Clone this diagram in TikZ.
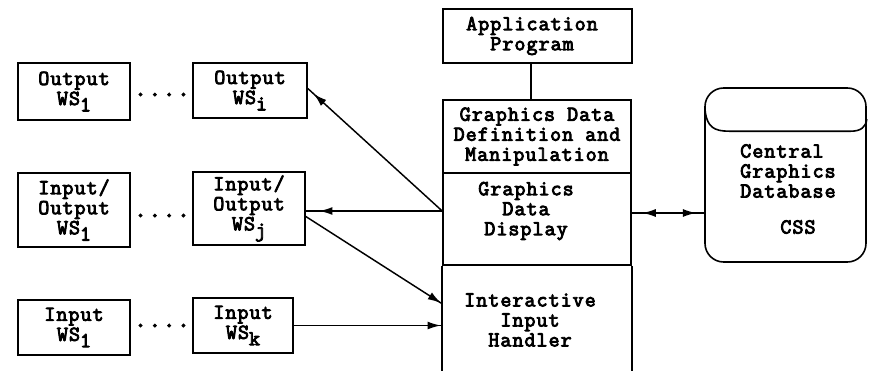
\documentclass[tikz,border=0pt]{standalone}
\usepackage{fontspec}
\newfontfamily\wsfont[FakeBold=4, LetterSpace=5]{Latin Modern Mono}
\usetikzlibrary{arrows.meta,decorations.markings,calc}

% lowered index after "WS"
\newcommand\wsidx[1]{\raisebox{-0.3em}{#1}}

\begin{document}
\begin{tikzpicture}[x=0.75pt,y=-0.75pt,
  every node/.style={font=\wsfont\fontsize{16}{15}\selectfont, inner sep=0pt},
  wsbox/.style={draw, line width=1.2pt, align=center},
  colbox/.style={draw, line width=1.2pt, align=center, minimum width=141pt},
  plain/.style={align=center},
  link/.style={line width=1.1pt},
  headat/.style={postaction={decorate},
    decoration={markings, mark=at position #1 with {\arrow{Latex[length=10pt,width=6pt]}}}},
  bothheads/.style 2 args={postaction={decorate},
    decoration={markings,
      mark=at position #1 with {\arrowreversed{Latex[length=10pt,width=6pt]}},
      mark=at position #2 with {\arrow{Latex[length=10pt,width=6pt]}}}},
  dots/.style={font=\wsfont\fontsize{19}{19}\selectfont}]

\useasboundingbox (0,0) rectangle (869,371);

% workstations
\node[wsbox, minimum width=84pt, minimum height=42.75pt] (outa) at (74,91.5) {Output\\WS\wsidx{1}};
\node[wsbox, minimum width=85.5pt, minimum height=41.25pt] (outb) at (250,90.5) {Output\\WS\wsidx{i}};
\node[wsbox, minimum width=84pt, minimum height=55.5pt] (ioa) at (74,210) {Input/\\Output\\WS\wsidx{1}};
\node[wsbox, minimum width=84pt, minimum height=54.75pt] (iob) at (249,208.5) {Input/\\Output\\WS\wsidx{j}};
\node[wsbox, minimum width=84pt, minimum height=41.25pt] (ina) at (74,327.5) {Input\\WS\wsidx{1}};
\node[wsbox, minimum width=75pt, minimum height=41.25pt] (inb) at (243,325.5) {Input\\WS\wsidx{k}};

\node[dots, anchor=base] (d1) at (162,96) {....};
\node[dots, anchor=base] (d2) at (162,217) {....};
\node[dots, anchor=base] (d3) at (162,327) {....};

% central column
\node[colbox, minimum width=141.75pt, minimum height=40.5pt] (app) at (537.5,36) {};
\node[plain] (apptxt) at (532,36) {Application\\Program};
\node[colbox, minimum height=54.75pt] (gddm) at (537,136.5) {Graphics Data\\Definition and\\Manipulation};
\node[colbox, minimum height=69pt] (disp) at (537,219) {};
\node[plain] (disptxt) at (526,211) {Graphics\\Data\\Display};
\node[plain] (inptxt) at (530,320) {Interactive\\Input\\Handler};
\coordinate (foot) at (0,371);
\draw[line width=1.2pt] (disp.south west) -- (disp.south west |- foot);
\draw[line width=1.2pt] (disp.south east) -- (disp.south east |- foot);

\draw[link] ([xshift=-4.9pt]app.south) -- ([xshift=-4.9pt]app.south |- gddm.north);

% database
\node[draw, line width=1.2pt, rounded corners=14pt,
      minimum width=120.75pt, minimum height=130.5pt] (db) at (785.5,175) {};
\draw[line width=1.2pt]
  ($(db.north west)+(1,24)$) .. controls ($(db.north west)+(3,40)$) and ($(db.north west)+(10,44)$) ..
  ($(db.north west)+(25,44)$) -- ($(db.north east)+(-16,44)$)
  .. controls ($(db.north east)+(-6,44)$) and ($(db.north east)+(-1,40)$) .. ($(db.north east)+(0,32)$);
\node[align=left, anchor=north west] (dbtxt) at (740,144) {Central\\Graphics\\Database};
\node (css) at (798,227) {CSS};

% connectors
\coordinate (hub) at ($(disp.west)+(0,-8)$);
\draw[link, headat=-6pt] (hub) -- ([yshift=1.5pt]outb.east);
\draw[link, headat=-10pt] (hub) -- (hub -| iob.east);
\coordinate (iobout) at ($(iob.east)+(0,8)$);
\coordinate (inpin) at ($(disp.south west)+(0,38)$);
\draw[link, headat=-1pt] (iobout) -- (inpin);
\draw[link, headat=-1pt] (inb.east) -- (inb.east -| disp.west);
\coordinate (dbhub) at ($(disp.east)+(0,-6)$);
\draw[link, bothheads={8pt}{-6pt}] (dbhub) -- (dbhub -| db.west);
\end{tikzpicture}
\end{document}
